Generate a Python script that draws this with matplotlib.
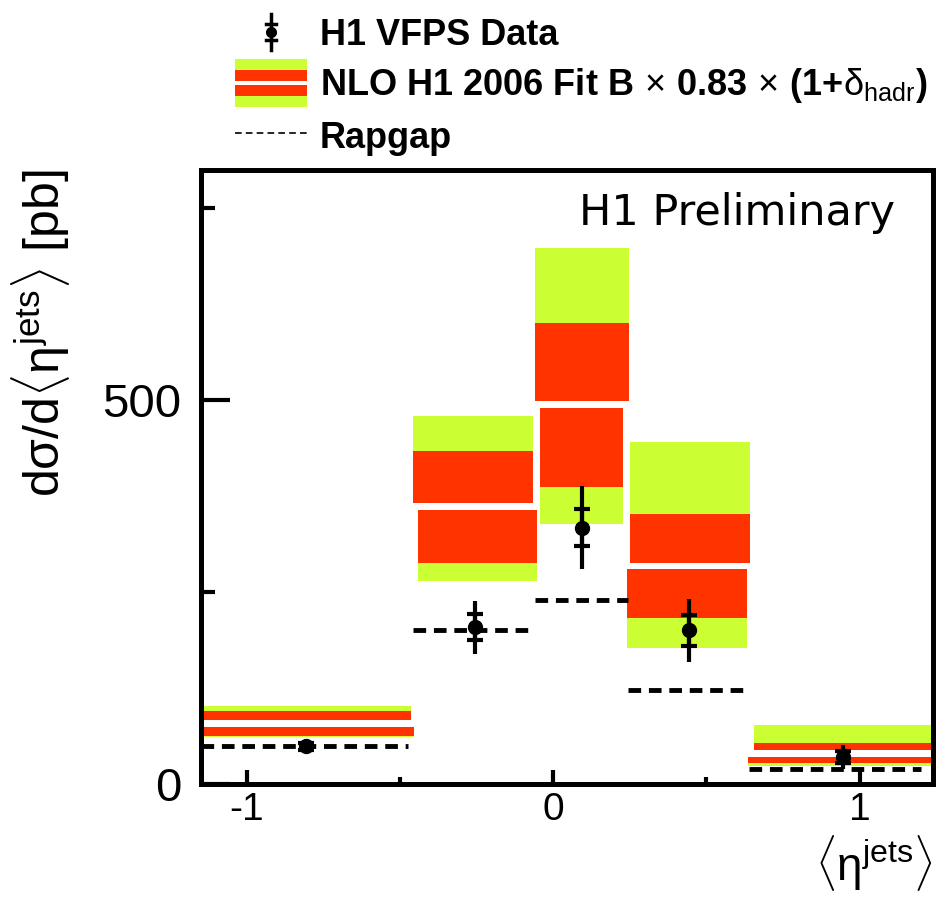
import matplotlib
matplotlib.use("Agg")
import matplotlib.pyplot as plt
from matplotlib.patches import Rectangle
from matplotlib.lines import Line2D
from matplotlib.legend_handler import HandlerBase

plt.rcParams['mathtext.fontset'] = 'custom'
plt.rcParams['mathtext.rm'] = 'Liberation Sans'
plt.rcParams['mathtext.it'] = 'Liberation Sans:italic'
plt.rcParams['mathtext.bf'] = 'Liberation Sans:bold'

# bins of <eta_jets> (upper / lower half of the NLO band are drawn a bit offset)
up_lo = [-1.15, -0.458, -0.061, 0.252, 0.654]
up_hi = [-0.465, -0.067, 0.247, 0.644, 1.24]
dn_lo = [-1.15, -0.440, -0.043, 0.241, 0.636]
dn_hi = [-0.453, -0.054, 0.228, 0.632, 1.24]

# NLO H1 2006 Fit B x 0.83 x (1+delta_hadr)
nlo_c = [79, 362, 494, 284, 40]
nlo_in_hi = [95, 434, 600, 352, 54]
nlo_in_lo = [63, 288, 387, 216, 28]
nlo_tot_hi = [102, 480, 698, 445, 77]
nlo_tot_lo = [61, 265, 339, 177, 23]

# Rapgap
rap_lo = [-1.15, -0.458, -0.059, 0.243, 0.639]
rap_hi = [-0.473, -0.067, 0.245, 0.631, 1.201]
rap_val = [50, 200, 240, 123, 20]

# H1 VFPS data
eta = [-0.806, -0.254, 0.095, 0.443, 0.946]
xsec = [49, 204, 334, 200, 35]
err_stat = [5, 17, 24, 20, 8]
err_tot = [9, 34, 54, 41, 16]

yellow = '#ccff33'
red = '#ff3300'
gap = 4.5  # half of the white gap around the central value

fig = plt.figure(figsize=(9.38, 9.05), dpi=100)
ax = fig.add_axes([0.2143, 0.1337, 0.7804, 0.6785])

for i in range(len(nlo_c)):
    # upper half
    w = up_hi[i] - up_lo[i]
    ax.add_patch(Rectangle((up_lo[i], nlo_c[i] + gap), w, nlo_tot_hi[i] - nlo_c[i] - gap,
                           facecolor=yellow, edgecolor='none', zorder=1))
    ax.add_patch(Rectangle((up_lo[i], nlo_c[i] + gap), w, nlo_in_hi[i] - nlo_c[i] - gap,
                           facecolor=red, edgecolor='none', zorder=2))
    # lower half
    w = dn_hi[i] - dn_lo[i]
    ax.add_patch(Rectangle((dn_lo[i], nlo_tot_lo[i]), w, nlo_c[i] - gap - nlo_tot_lo[i],
                           facecolor=yellow, edgecolor='none', zorder=1))
    ax.add_patch(Rectangle((dn_lo[i], nlo_in_lo[i]), w, nlo_c[i] - gap - nlo_in_lo[i],
                           facecolor=red, edgecolor='none', zorder=2))

ax.hlines(rap_val, rap_lo, rap_hi, colors='black', linewidth=3.5,
          linestyles=(0, (2.6, 1.6)), zorder=3)

ax.errorbar(eta, xsec, yerr=err_tot, fmt='none', ecolor='black', elinewidth=3, capsize=0, zorder=4)
ax.errorbar(eta, xsec, yerr=err_stat, fmt='o', color='black', ms=10, elinewidth=3,
            capsize=6, capthick=3, zorder=5)

ax.set_xlim(-1.15, 1.24)
ax.set_ylim(0, 800)
ax.set_xticks([-1, 0, 1])
ax.set_xticklabels(['-1', '0', '1'])
ax.set_xticks([-0.5, 0.5], minor=True)
ax.set_yticks([0, 500])
ax.set_yticks([250, 750], minor=True)
for s in ax.spines.values():
    s.set_linewidth(3.6)
ax.tick_params(axis='both', which='both', direction='in', width=3,
               top=False, right=False)
ax.tick_params(axis='y', which='major', length=21, pad=14, labelsize=34)
ax.tick_params(axis='y', which='minor', length=10)
ax.tick_params(axis='x', which='major', length=10, pad=6, labelsize=28)
ax.tick_params(axis='x', which='minor', length=5)
for lab in ax.get_xticklabels() + ax.get_yticklabels():
    lab.set_family('Liberation Sans')

ax.text(0.948, 0.93, 'H1 Preliminary', transform=ax.transAxes, ha='right', va='center',
        fontsize=31, family='DejaVu Sans')
ax.set_ylabel(r'd$\mathrm{\sigma}$/d$\langle\mathrm{\eta}^{\rm jets}\rangle$ [pb]', fontsize=36,
              family='Liberation Sans', loc='top', labelpad=22)
ax.text(1.0, -0.08, r'$\langle\mathrm{\eta}^{\rm jets}\rangle$', transform=ax.transAxes,
        ha='right', va='top', fontsize=33, family='Liberation Sans')


class DataHandler(HandlerBase):
    def create_artists(self, legend, orig_handle, xdescent, ydescent, width, height, fontsize, trans):
        cx = -xdescent + 0.5 * width
        cy = -ydescent + 0.5 * height
        arts = [Line2D([cx, cx], [cy - 13, cy + 13], color='black', lw=2.5),
                Line2D([cx - 3.5, cx + 3.5], [cy + 6, cy + 6], color='black', lw=2.5),
                Line2D([cx - 3.5, cx + 3.5], [cy - 6, cy - 6], color='black', lw=2.5),
                Line2D([cx], [cy], marker='o', ms=7, color='black')]
        for a in arts:
            a.set_transform(trans)
        return arts


class BandHandler(HandlerBase):
    def create_artists(self, legend, orig_handle, xdescent, ydescent, width, height, fontsize, trans):
        x0 = -xdescent
        cy = -ydescent + 0.5 * height
        arts = [Rectangle((x0, cy - 17.5), width, 35, facecolor=yellow, edgecolor='none'),
                Rectangle((x0, cy - 9.5), width, 19, facecolor=red, edgecolor='none'),
                Rectangle((x0, cy - 1.2), width, 2.4, facecolor='white', edgecolor='none')]
        for a in arts:
            a.set_transform(trans)
        return arts


h_data = Line2D([], [], color='black')
h_band = Rectangle((0, 0), 1, 1)
h_rap = Line2D([], [], color='black', lw=1.2, linestyle=(0, (4, 2.5)))
fig.legend([h_data, h_band, h_rap],
           ['H1 VFPS Data',
            r'NLO H1 2006 Fit B$\,\times\,$0.83$\,\times\,$(1+$\mathrm{\delta}_{\rm hadr}$)',
            'Rapgap'],
           handler_map={h_data: DataHandler(), h_band: BandHandler()},
           loc='upper left', bbox_to_anchor=(235 / 938, 1 - 16 / 905), frameon=False,
           borderpad=0, borderaxespad=0, handlelength=2.0, handleheight=1.0,
           handletextpad=0.35, labelspacing=0.38,
           prop={'family': 'Liberation Sans', 'weight': 'bold', 'size': 26})

fig.savefig('out.png', dpi=100)
